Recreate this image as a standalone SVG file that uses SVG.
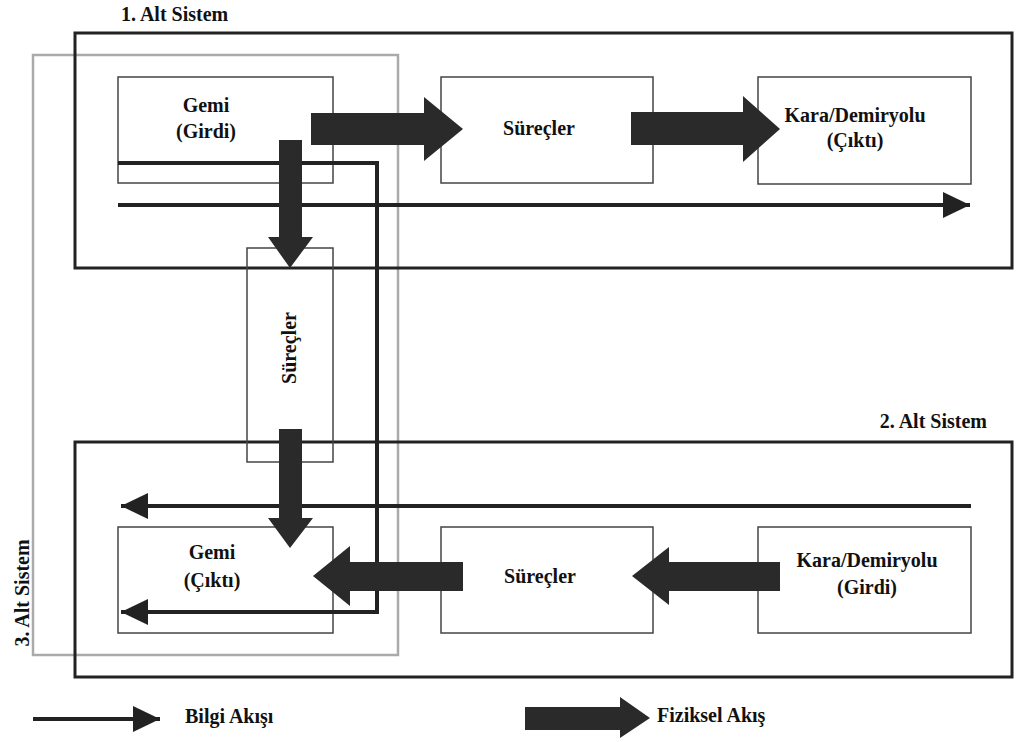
<svg xmlns="http://www.w3.org/2000/svg" width="1029" height="742" viewBox="0 0 1029 742">
<style>
.sub{fill:none;stroke:#222;stroke-width:3}
.grey{fill:none;stroke:#aaa;stroke-width:2.5}
.box{fill:none;stroke:#444;stroke-width:1.5}
.info{fill:none;stroke:#222;stroke-width:4;marker-end:url(#ah)}
.phys{fill:#2a2a2a}
text{font-family:"Liberation Serif","Times New Roman",serif;font-weight:bold;font-size:20px;fill:#111}
.c{text-anchor:middle}
</style>
<defs>
<marker id="ah" viewBox="0 0 27 26" refX="27" refY="13" markerWidth="27" markerHeight="26" markerUnits="userSpaceOnUse" orient="auto">
<path d="M0,0 L27,13 L0,26 Z" fill="#222"/>
</marker>
</defs>
<rect fill="#fff" x="0" y="0" width="1029" height="742"/>

<g id="subsystem3">
<rect class="grey" x="33" y="55" width="365" height="600"/>
<text transform="translate(29,593) rotate(-90)" class="c">3. Alt Sistem</text>
</g>
<g id="subsystem1">
<rect class="sub" x="75" y="33" width="937" height="235"/>
<text x="121" y="21">1. Alt Sistem</text>
</g>
<g id="subsystem2">
<rect class="sub" x="75" y="442" width="937" height="235"/>
<text x="987" y="428" text-anchor="end">2. Alt Sistem</text>
</g>

<g id="gemi-girdi">
<rect class="box" x="118" y="77" width="215" height="106"/>
<text x="206" y="112" class="c">Gemi</text>
<text x="206" y="138" class="c">(Girdi)</text>
</g>
<g id="surecler-1">
<rect class="box" x="441" y="77" width="212" height="106"/>
<text x="539" y="135" class="c">Süreçler</text>
</g>
<g id="kara-cikti">
<rect class="box" x="758" y="77" width="213" height="107"/>
<text x="855" y="122" class="c">Kara/Demiryolu</text>
<text x="855" y="147" class="c">(Çıktı)</text>
</g>
<g id="surecler-3">
<rect class="box" x="247" y="248" width="86" height="214"/>
<text transform="translate(296,348) rotate(-90)" class="c">Süreçler</text>
</g>
<g id="gemi-cikti">
<rect class="box" x="118" y="527" width="215" height="106"/>
<text x="212" y="559" class="c">Gemi</text>
<text x="212" y="587" class="c">(Çıktı)</text>
</g>
<g id="surecler-2">
<rect class="box" x="441" y="527" width="212" height="106"/>
<text x="540" y="583" class="c">Süreçler</text>
</g>
<g id="kara-girdi">
<rect class="box" x="758" y="527" width="213" height="106"/>
<text x="867" y="567" class="c">Kara/Demiryolu</text>
<text x="867" y="594" class="c">(Girdi)</text>
</g>

<g id="connectors">
<path class="info" d="M118,163 H377 V612 H121"/>
<path class="info" d="M118,205 H970"/>
<path class="info" d="M971,506 H121"/>
<polygon class="phys" points="311,113 424,113 424,97 463,129 424,161 424,145 311,145"/>
<polygon class="phys" points="631,112 743,112 743,96 780,129 743,162 743,145 631,145"/>
<polygon class="phys" points="279,140 302,140 302,237 313,237 290,268 268,237 279,237"/>
<polygon class="phys" points="279,429 302,429 302,518 313,518 290,548 268,518 279,518"/>
<polygon class="phys" points="463,562 350,562 350,546 313,576 350,606 350,591 463,591"/>
<polygon class="phys" points="780,562 669,562 669,547 632,576 669,605 669,591 780,591"/>
</g>

<g id="legend">
<path class="info" d="M33,719 H160"/>
<text x="185" y="723">Bilgi Akışı</text>
<polygon class="phys" points="525,707 620,707 620,697 650,718 620,738 620,730 525,730"/>
<text x="657" y="722">Fiziksel Akış</text>
</g>
</svg>
